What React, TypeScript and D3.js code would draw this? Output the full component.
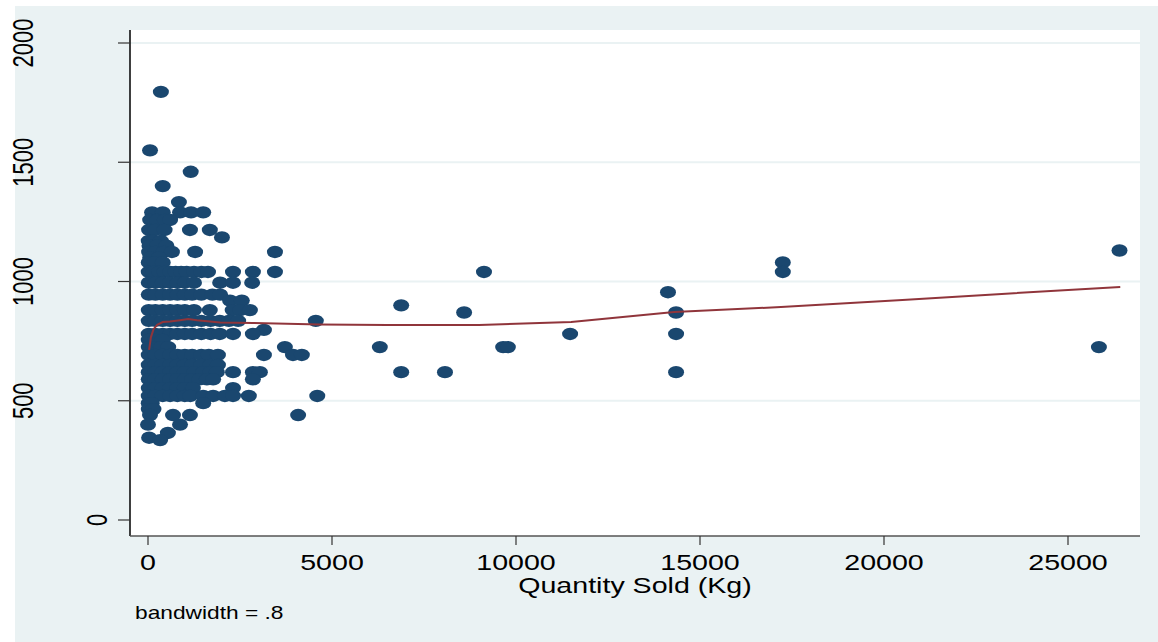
import React from "react";
import * as d3 from "d3";

// scatter rows: [price, quantities sold at that price]
const priceRows: [number, number[]][] = [
  [1795, [350]],
  [1550, [55]],
  [1460, [1160]],
  [1400, [400]],
  [1333, [840]],
  [1290, [110, 400, 870, 1170, 1500]],
  [1258, [60, 250, 460, 600]],
  [1216, [30, 200, 450, 1140, 1680]],
  [1185, [2010]],
  [1170, [20, 150, 350]],
  [1150, [40, 250, 500]],
  [1124, [30, 200, 430, 650, 1280, 3450]],
  [1100, [60, 300]],
  [1080, [20, 180, 400, 17250]],
  [1040, [20, 150, 300, 450, 600, 750, 900, 1050, 1250, 1450, 1630, 2310, 2850, 3450, 9130, 17250]],
  [1130, [26400]],
  [995, [20, 200, 400, 600, 800, 1000, 1250, 1960, 2310, 2830]],
  [955, [14130]],
  [945, [20, 200, 400, 600, 800, 1000, 1200, 1450, 1750, 1960]],
  [920, [2230, 2550]],
  [900, [6880]],
  [880, [20, 200, 400, 600, 800, 1000, 1250, 1680, 2300, 2500, 2770]],
  [870, [8590, 14350]],
  [835, [20, 200, 400, 600, 800, 1000, 1200, 1450, 1700, 1950, 2200, 2450, 4560]],
  [797, [3150]],
  [780, [20, 200, 400, 600, 800, 1000, 1200, 1450, 1700, 1950, 2310, 2850, 11470, 14350]],
  [755, [20, 200, 400]],
  [725, [20, 150, 350, 550, 3720, 6300, 9650, 9780, 25840]],
  [692, [20, 200, 400, 600, 800, 1000, 1200, 1450, 1650, 1900, 3150, 3940, 4180]],
  [650, [20, 200, 400, 600, 800, 1000, 1200, 1450, 1700, 1900]],
  [620, [20, 200, 400, 600, 800, 1000, 1250, 1500, 1700, 1870, 2310, 2850, 3040, 6880, 8070, 14350]],
  [590, [20, 200, 400, 600, 800, 1000, 1200, 1400, 1600, 1770, 2850]],
  [553, [20, 200, 400, 600, 800, 1000, 1220, 2310]],
  [520, [20, 200, 400, 600, 800, 1000, 1150, 1500, 1770, 2090, 2310, 2740, 4600]],
  [490, [20, 100, 1500]],
  [465, [20, 150]],
  [440, [55, 680, 1140, 4080]],
  [400, [0, 870]],
  [365, [540]],
  [345, [30]],
  [335, [330]],
];

// lowess smooth
const smoothQty = [30, 80, 150, 250, 400, 600, 870, 1090, 1330, 1960, 2850, 4670, 6500, 9000, 11500, 14300, 17200, 20500, 23200, 26420];
const smoothPrice = [713, 767, 800, 818, 830, 832, 838, 843, 838, 828, 826, 820, 818, 818, 830, 872, 893, 922, 948, 977];

const xTicks = [0, 5000, 10000, 15000, 20000, 25000];
const yTicks = [0, 500, 1000, 1500, 2000];

const BG = "#eaf2f3";
const NAVY = "#1a476f";
const MAROON = "#90353b";
const FONT = "'Liberation Sans', Arial, Helvetica, sans-serif";
const STRETCH = 1.3;

const plot = { left: 130, right: 1140, top: 30, bottom: 536 };

export default function App() {
  const x = d3.scaleLinear().domain([0, 25000]).range([148, 1068]);
  const y = d3.scaleLinear().domain([0, 2000]).range([520, 43]);

  const points = priceRows.flatMap(([p, qs]) => qs.map((q) => ({ q, p })));
  const smooth = smoothQty.map((q, i) => [q, smoothPrice[i]] as [number, number]);
  const line = d3
    .line<[number, number]>()
    .x((d) => x(d[0]))
    .y((d) => y(d[1]));

  return (
    <svg
      width={1158}
      height={642}
      style={{ position: "absolute", left: 0, top: 0, background: "#fff" }}
    >
      <rect x={15} y={6} width={1143} height={636} fill={BG} />
      <rect
        x={plot.left}
        y={plot.top}
        width={plot.right - plot.left}
        height={plot.bottom - plot.top}
        fill="#fff"
      />
      {/* gridlines */}
      {yTicks
        .filter((t) => t > 0)
        .map((t) => (
          <line
            key={t}
            x1={plot.left}
            x2={plot.right}
            y1={y(t)}
            y2={y(t)}
            stroke={BG}
            strokeWidth={2}
          />
        ))}
      {/* points */}
      {points.map((d, i) => (
        <ellipse key={i} cx={x(d.q)} cy={y(d.p)} rx={8} ry={6.2} fill={NAVY} />
      ))}
      <path d={line(smooth) ?? ""} fill="none" stroke={MAROON} strokeWidth={2} />
      {/* axes */}
      <line x1={plot.left} x2={plot.left} y1={plot.top} y2={plot.bottom} stroke="#000" strokeWidth={1.5} />
      <line x1={plot.left} x2={plot.right} y1={plot.bottom} y2={plot.bottom} stroke="#555" strokeWidth={1.5} />
      {yTicks.map((t) => (
        <g key={t}>
          <line x1={118} x2={plot.left} y1={y(t)} y2={y(t)} stroke="#333" strokeWidth={1.2} />
          <text
            transform={`translate(${t === 0 ? 107 : 33},${y(t)}) scale(${STRETCH},1) rotate(-90)`}
            textAnchor="middle"
            fontFamily={FONT}
            fontSize={22}
            fill="#000"
          >
            {t}
          </text>
        </g>
      ))}
      {xTicks.map((t) => (
        <g key={t}>
          <line x1={x(t)} x2={x(t)} y1={plot.bottom} y2={545} stroke="#333" strokeWidth={1.2} />
          <text
            transform={`translate(${x(t)},570) scale(${STRETCH},1)`}
            textAnchor="middle"
            fontFamily={FONT}
            fontSize={22}
            fill="#000"
          >
            {t}
          </text>
        </g>
      ))}
      <text
        transform={`translate(${(plot.left + plot.right) / 2},593) scale(${STRETCH},1)`}
        textAnchor="middle"
        fontFamily={FONT}
        fontSize={22}
        fill="#000"
      >
        Quantity Sold (Kg)
      </text>
      <text
        transform={`translate(135,619) scale(${STRETCH},1)`}
        fontFamily={FONT}
        fontSize={17.5}
        fill="#000"
      >
        bandwidth = .8
      </text>
    </svg>
  );
}
